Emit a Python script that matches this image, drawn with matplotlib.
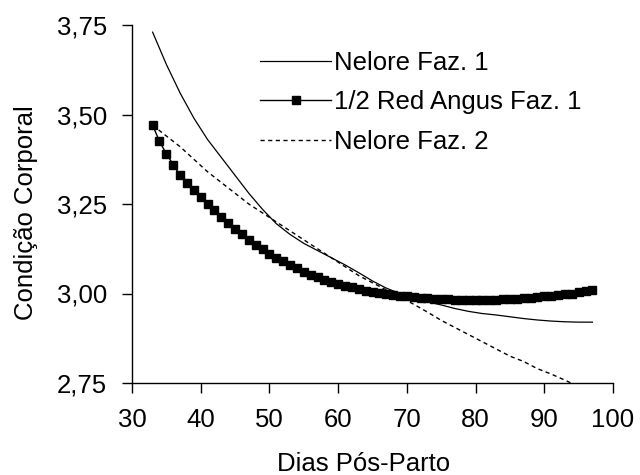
import matplotlib

matplotlib.use("Agg")
import matplotlib.pyplot as plt

# Nelore Faz. 1 and Nelore Faz. 2 (read every 2 days)
days_lines = list(range(33, 98, 2))
nelore_f1 = [3.73, 3.64, 3.56, 3.49, 3.43, 3.38, 3.33, 3.28, 3.235, 3.195, 3.165,
             3.14, 3.12, 3.10, 3.08, 3.058, 3.035, 3.015, 3.0, 2.988, 2.977, 2.968,
             2.958, 2.95, 2.944, 2.94, 2.935, 2.93, 2.926, 2.923, 2.921, 2.92, 2.92]
nelore_f2 = [3.47, 3.44, 3.41, 3.375, 3.34, 3.31, 3.28, 3.25, 3.225, 3.20, 3.175,
             3.15, 3.125, 3.10, 3.075, 3.05, 3.03, 3.01, 2.99, 2.97, 2.948, 2.925,
             2.905, 2.885, 2.865, 2.845, 2.825, 2.81, 2.79, 2.775, 2.758, 2.74, 2.72]

# 1/2 Red Angus Faz. 1 (one marker per day)
days_ra = list(range(33, 98))
red_angus_f1 = [3.47, 3.425, 3.39, 3.36, 3.33, 3.31, 3.29, 3.27, 3.25, 3.232,
                3.214, 3.197, 3.18, 3.165, 3.15, 3.136, 3.123, 3.111, 3.10, 3.09,
                3.08, 3.07, 3.061, 3.053, 3.046, 3.039, 3.033, 3.027, 3.022, 3.017,
                3.012, 3.008, 3.004, 3.001, 2.998, 2.996, 2.994, 2.992, 2.99, 2.988,
                2.987, 2.986, 2.985, 2.984, 2.983, 2.983, 2.983, 2.983, 2.983, 2.983,
                2.983, 2.984, 2.985, 2.986, 2.987, 2.988, 2.99, 2.992, 2.994, 2.996,
                2.998, 3.0, 3.003, 3.006, 3.009]

xticks = [30, 40, 50, 60, 70, 80, 90, 100]
yticks = [2.75, 3.00, 3.25, 3.50, 3.75]
ytick_labels = ["2,75", "3,00", "3,25", "3,50", "3,75"]

plt.rcParams["font.family"] = ["Liberation Sans", "DejaVu Sans"]
FS = 18.5

fig = plt.figure(figsize=(6.4, 4.75), dpi=100)
ax = fig.add_axes([132 / 640, 1 - 383 / 475, 481 / 640, 358 / 475])

ax.plot(days_lines, nelore_f1, color="black", lw=0.9, label="Nelore Faz. 1")
ax.plot(days_ra, red_angus_f1, color="black", lw=1.0, marker="s", ms=5.2,
        label="1/2 Red Angus Faz. 1")
ax.plot(days_lines, nelore_f2, color="black", lw=1.0, linestyle=(0, (3, 2.5)),
        label="Nelore Faz. 2")

ax.set_xlim(30, 100)
ax.set_ylim(2.75, 3.75)
ax.set_xticks(xticks)
ax.set_yticks(yticks)
ax.set_yticklabels(ytick_labels)
ax.tick_params(direction="out", length=7, width=1.0, labelsize=FS, color="black")
ax.tick_params(axis="y", pad=11)
ax.tick_params(axis="x", pad=11)
for side in ("top", "right"):
    ax.spines[side].set_visible(False)
for side in ("left", "bottom"):
    ax.spines[side].set_linewidth(1.0)

ax.set_xlabel("Dias Pós-Parto", fontsize=FS)
ax.set_ylabel("Condição Corporal", fontsize=FS)
ax.xaxis.set_label_coords(0.481, -0.192)
ax.yaxis.set_label_coords(-0.195, 0.475)

ax.legend(loc="upper left", bbox_to_anchor=(0.266, 0.928), frameon=False, fontsize=FS,
          handlelength=2.77, handletextpad=0.12, labelspacing=0.6, borderpad=0,
          borderaxespad=0)

fig.savefig("out.png", dpi=100)
